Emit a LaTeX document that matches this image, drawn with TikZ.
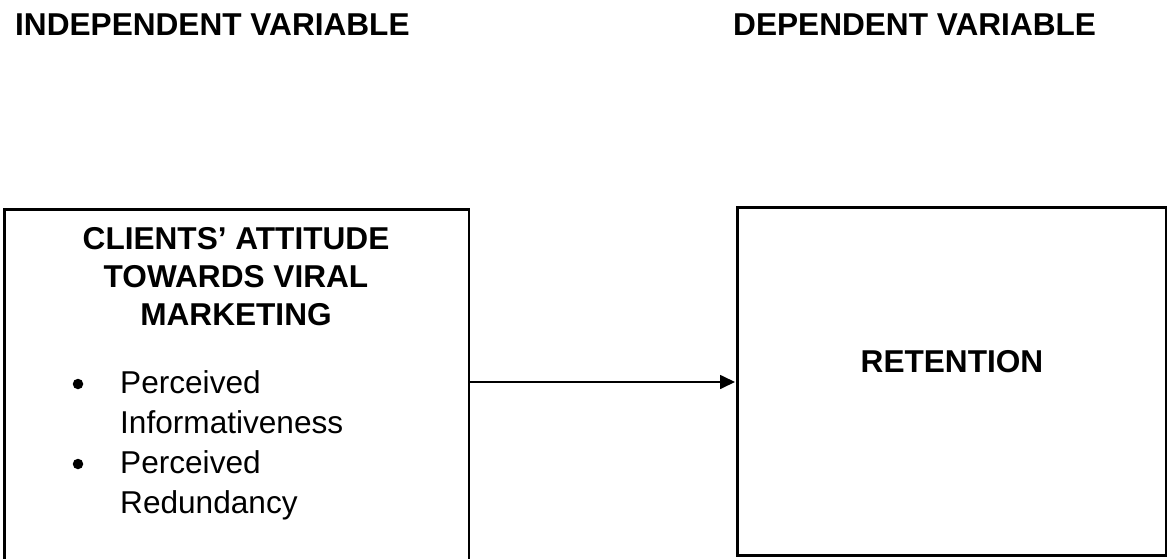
\documentclass[tikz,border=0pt]{standalone}
\usepackage{fontspec}
\setmainfont{Liberation Sans}
\usetikzlibrary{arrows.meta}
\begin{document}
\begin{tikzpicture}[x=1pt,y=-1pt,
  frame/.style={draw=black,line width=2.7pt,inner sep=0pt,outer sep=0pt,anchor=north west},
  hd/.style={inner sep=0pt,font=\fontsize{31.6}{38}\selectfont\bfseries},
  txt/.style={inner sep=0pt,font=\fontsize{31.6}{38}\selectfont},
  dot/.style={circle,fill=black,inner sep=0pt,minimum size=10.5pt},
  link/.style={draw=black,line width=1.7pt,-{Triangle[length=15pt,width=14pt]},shorten >=2.5pt}]
\useasboundingbox (0,0) rectangle (1168,559);
\node[frame,minimum width=464.5pt,minimum height=352pt] (lbox) at (4.5,209.5) {};
\node[frame,minimum width=428.5pt,minimum height=348pt] (rbox) at (737.5,207.5) {};
\node[hd,anchor=base west] (ivlab) at (15,36) {INDEPENDENT VARIABLE};
\node[hd,anchor=base west] (dvlab) at (733,36) {DEPENDENT VARIABLE};
\node[hd,anchor=base] (t1) at (236,249) {CLIENTS’ ATTITUDE};
\node[hd,anchor=base] (t2) at (236,287) {TOWARDS VIRAL};
\node[hd,anchor=base] (t3) at (236,325) {MARKETING};
\node[dot] (b1) at (78,384) {};
\node[dot] (b2) at (78,464) {};
\node[txt,anchor=base west] (i1) at (120,393) {Perceived};
\node[txt,anchor=base west] (i2) at (120,433) {Informativeness};
\node[txt,anchor=base west] (i3) at (120,473) {Perceived};
\node[txt,anchor=base west] (i4) at (120,513) {Redundancy};
\node[hd,anchor=base] (ret) at (952,372) {RETENTION};
\coordinate (src) at (lbox.east |- 0,382);
\draw[link] (src) -- (src -| rbox.west);
\end{tikzpicture}
\end{document}
